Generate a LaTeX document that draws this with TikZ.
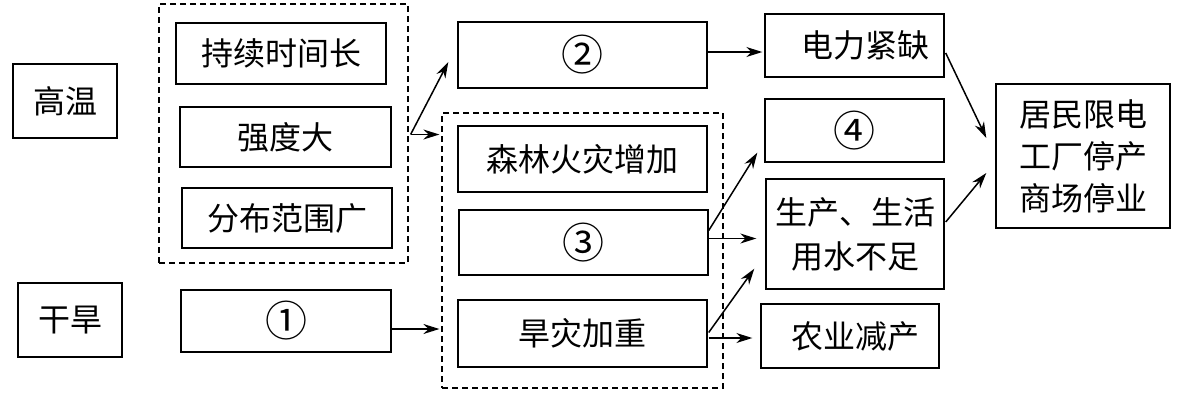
\documentclass[tikz,border=0pt]{standalone}
\usepackage{fontspec}
\newfontfamily\cjk{Noto Sans CJK SC}
\usetikzlibrary{arrows.meta,calc}
\newcommand{\circnum}[1]{{\fontsize{42}{43}\selectfont #1}}
\begin{document}
\begin{tikzpicture}[x=1pt,y=-1pt,
  box/.style={draw, line width=1.4pt, inner sep=0pt, align=center,
    font=\cjk\fontsize{32}{44}\selectfont},
  dbox/.style={draw, line width=1.2pt, dash pattern=on 6pt off 4pt, inner sep=0pt},
  arr/.style={-{Stealth[length=16pt,width=10pt]}, line width=1.5pt}]
\useasboundingbox[fill=white] (0,0) rectangle (1182,394);
% left column
\node[box, minimum width=104pt, minimum height=74pt] (gw) at (65,101) {高温};
\node[box, minimum width=104pt, minimum height=74pt] (gh) at (70,320) {干旱};
% dashed group 1
\node[dbox, minimum width=249pt, minimum height=259pt] (d1) at (283.5,133.5) {};
\node[box, minimum width=210pt, minimum height=61pt] (b1) at (281,53.5) {持续时间长};
\node[box, minimum width=211pt, minimum height=60pt] (b2) at (285.5,137) {强度大};
\node[box, minimum width=210pt, minimum height=60pt] (b3) at (287,218) {分布范围广};
\node[box, minimum width=210pt, minimum height=62pt] (c1) at (286,321) {\circnum{①}};
% middle column
\node[box, minimum width=249pt, minimum height=66pt] (c2) at (582.5,55) {\circnum{②}};
\node[dbox, minimum width=281pt, minimum height=275pt] (d2) at (582.5,250.5) {};
\node[box, minimum width=249pt, minimum height=66pt] (s1) at (582.5,159) {森林火灾增加};
\node[box, minimum width=249pt, minimum height=65pt] (s2) at (583.5,242.5) {\circnum{③}};
\node[box, minimum width=249pt, minimum height=67pt] (s3) at (582.5,333.5) {旱灾加重};
% right column
\node[box, minimum width=179pt, minimum height=63pt, text width=179pt] (r1) at (854.5,45.5) {\hspace*{22pt}电力紧缺};
\node[box, minimum width=179pt, minimum height=63pt] (r2) at (854.5,130.5) {\circnum{④}};
\node[box, minimum width=178pt, minimum height=110pt] (r3) at (855,234) {生产、生活\\用水不足};
\node[box, minimum width=178pt, minimum height=64pt, text width=178pt] (r4) at (850,336) {\hspace*{10pt}农业减产};
\node[box, minimum width=174pt, minimum height=144pt, font=\cjk\fontsize{32}{42}\selectfont] (f) at (1083,156) {居民限电\\工厂停产\\商场停业};
% arrows
\draw[arr] ($(d1.east)+(2,1)$) -- ($(c2.west)+(-9,7)$);
\draw[arr] ($(d1.east)+(2,1)$) -- ($(d2.west |- d1.east)+(-2,1)$);
\draw[arr] ($(c1.east)+(0,8)$) -- ($(d2.west |- c1.east)+(-2,8)$);
\draw[arr] ($(c2.east)+(0,-3)$) -- ($(r1.west |- c2.east)+(-2,-3)$);
\draw[arr] ($(s2.east)+(0,-12)$) -- ($(r2.south west)+(-7,-10)$);
\draw[arr] ($(s2.east)+(0,-4)$) -- ($(r3.west |- s2.east)+(-9,-4)$);
\draw[arr] ($(s3.east)+(1,-1)$) -- ($(r3.south west)+(-11,-21)$);
\draw[arr] ($(s3.east)+(1,4.5)$) -- ($(r4.west |- s3.east)+(-8,4.5)$);
\draw[arr] ($(r1.east)+(1,7.5)$) -- ($(f.west)+(-9,-18)$);
\draw[arr] ($(r3.east)+(1,-12)$) -- ($(f.west)+(-9,17)$);
\end{tikzpicture}
\end{document}
